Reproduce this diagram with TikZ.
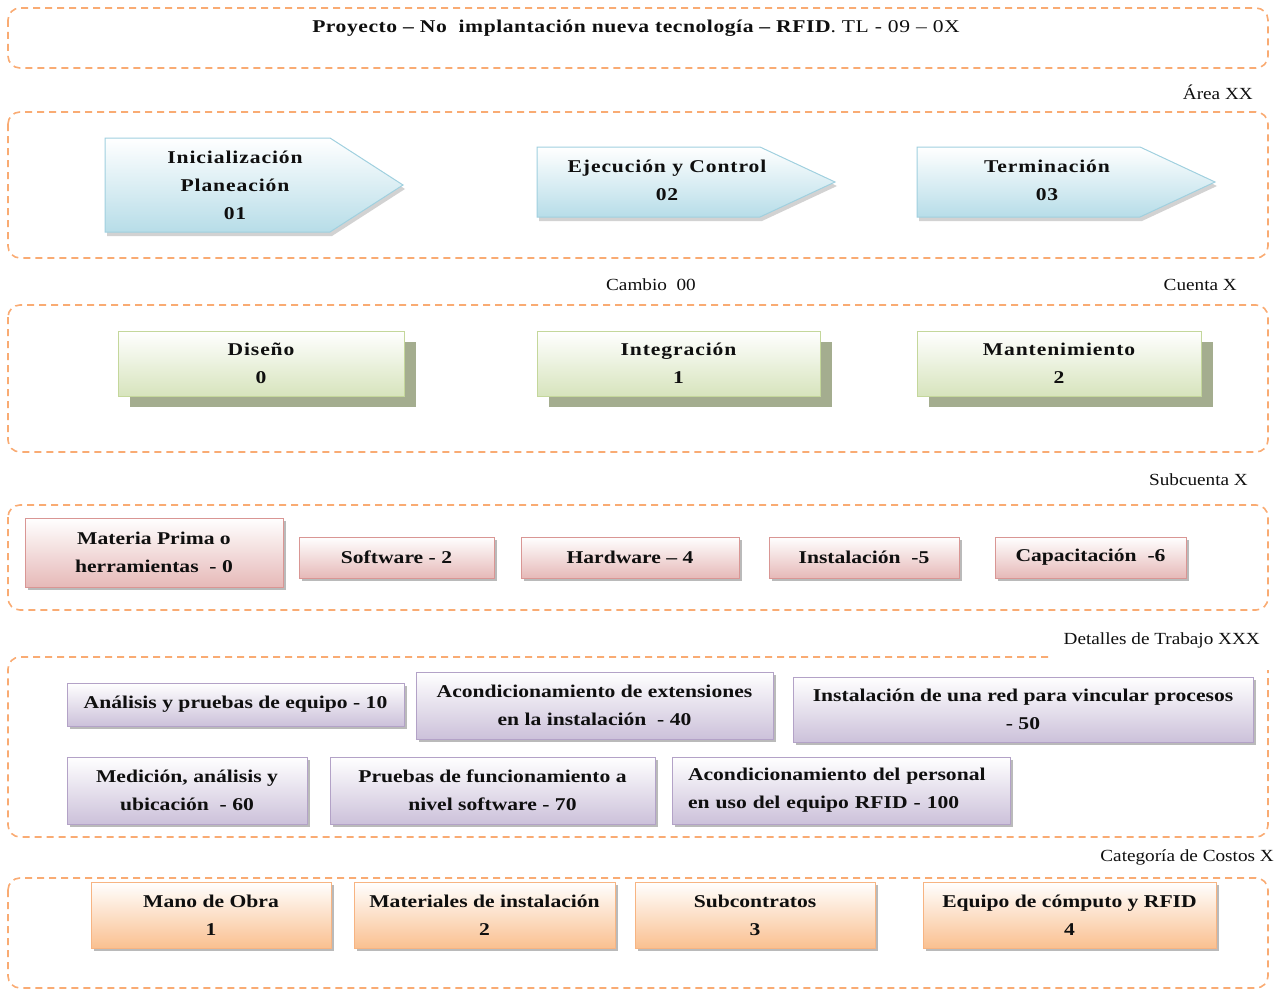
\documentclass[tikz,border=0pt]{standalone}
\usepackage{fontspec}
\setmainfont{Liberation Serif}
\newfontfamily\boxfamily{Liberation Serif}[FakeStretch=1.2]
\newfontfamily\lblfamily{Liberation Serif}[FakeStretch=1.13]
\usetikzlibrary{shadows}

\definecolor{grpline}{RGB}{249,171,115}
\definecolor{bluebot}{RGB}{183,221,232}
\definecolor{bluebd}{RGB}{160,208,223}
\definecolor{greenbot}{RGB}{215,228,189}
\definecolor{greenbd}{RGB}{196,215,155}
\definecolor{greenshd}{RGB}{164,173,143}
\definecolor{pinkbot}{RGB}{230,185,184}
\definecolor{pinkbd}{RGB}{217,150,148}
\definecolor{lilacbot}{RGB}{204,193,218}
\definecolor{lilacbd}{RGB}{179,162,199}
\definecolor{orangebot}{RGB}{250,192,144}
\definecolor{orangebd}{RGB}{247,180,130}
\definecolor{txt}{RGB}{15,15,15}

\newcommand\boxfnt{\boxfamily\bfseries\fontsize{18}{28}\selectfont}
\newcommand\lblfnt{\lblfamily\fontsize{17}{20}\selectfont}

\begin{document}
\begin{tikzpicture}[x=1pt,y=1pt,
  group/.style={draw=grpline, line width=1.6pt, dash pattern=on 7pt off 5pt, rounded corners=12pt},
  tag/.style={font=\lblfnt, inner sep=0pt, anchor=east, text=txt},
  card/.style={rectangle, inner sep=0pt, align=center, font=\boxfnt, text=txt},
  spaced/.style={font=\boxfnt\addfontfeature{LetterSpace=5}},
  softshadow/.style={drop shadow={shadow xshift=3pt, shadow yshift=-3pt, fill=black!45, opacity=.6}},
  phase/.style={draw=bluebd, line width=1pt, top color=white, bottom color=bluebot,
    drop shadow={shadow xshift=2pt, shadow yshift=-4pt, fill=black!35, opacity=.5}},
  account/.style={card, draw=greenbd, line width=1pt, top color=white, bottom color=greenbot,
    drop shadow={shadow xshift=12pt, shadow yshift=-11pt, fill=greenshd, opacity=1}},
  subacc/.style={card, draw=pinkbd, line width=1pt, top color=white, bottom color=pinkbot, softshadow},
  work/.style={card, draw=lilacbd, line width=1pt, top color=white, bottom color=lilacbot, softshadow},
  cost/.style={card, draw=orangebd, line width=1pt, top color=white, bottom color=orangebot, softshadow},
]
\useasboundingbox (0,0) rectangle (1277,-990);

% ---- dashed group frames ----
\draw[group] (8,-8) rectangle (1268,-68);
\draw[group] (8,-112) rectangle (1268,-258);
\draw[group] (8,-305) rectangle (1268,-452);
\draw[group] (8,-505) rectangle (1268,-610);
\draw[group] (1048,-657) -| (8,-837) -| (1268,-670);
\draw[group] (8,-878) rectangle (1268,-988);

% ---- title ----
\node[card, font=\boxfnt\addfontfeature{LetterSpace=3}] (title) at (636,-28) {Proyecto – No\ \ implantación nueva tecnología – RFID\mdseries. TL - 09 – 0X};

% ---- level tags ----
\node[tag] (tArea) at (1253,-92) {Área XX};
\node[tag, anchor=center] (tCambio) at (651,-285) {Cambio\ \ 00};
\node[tag] (tCuenta) at (1237,-285) {Cuenta X};
\node[tag] (tSub) at (1248,-480) {Subcuenta X};
\node[tag] (tDet) at (1260,-640) {Detalles de Trabajo XXX};
\node[tag] (tCat) at (1274,-857) {Categoría de Costos X};

% ---- phases ----
\path[phase] (105,-138) -- (330,-138) -- (403,-185) -- (330,-232) -- (105,-232) -- cycle;
\path[phase] (537,-147) -- (760,-147) -- (835,-182) -- (760,-217) -- (537,-217) -- cycle;
\path[phase] (917,-147) -- (1140,-147) -- (1215,-182) -- (1140,-217) -- (917,-217) -- cycle;
\node[card, spaced] (ph1) at (235,-185) {Inicialización\\Planeación\\01};
\node[card, spaced] (ph2) at (667,-180) {Ejecución y Control\\02};
\node[card, spaced] (ph3) at (1047,-180) {Terminación\\03};

% ---- accounts ----
\node[account, spaced, minimum width=286pt, minimum height=65pt] (c0) at (261,-363.5) {Diseño\\0};
\node[account, spaced, minimum width=283pt, minimum height=65pt] (c1) at (678.5,-363.5) {Integración\\1};
\node[account, spaced, minimum width=284pt, minimum height=65pt] (c2) at (1059,-363.5) {Mantenimiento\\2};

% ---- sub-accounts ----
\node[subacc, minimum width=258pt, minimum height=69pt] (s0) at (154,-552.5) {Materia Prima o\\herramientas\ \ - 0};
\node[subacc, minimum width=195pt, minimum height=41pt] (s2) at (396.5,-557.5) {Software - 2};
\node[subacc, minimum width=218pt, minimum height=41pt] (s4) at (630,-557.5) {Hardware – 4};
\node[subacc, minimum width=190pt, minimum height=41pt] (s5) at (864,-557.5) {Instalación\ \ -5};
\node[subacc, minimum width=191pt, minimum height=41pt] (s6) at (1090.5,-557.5) {Capacitación\ \ -6};

% ---- work details ----
\node[work, minimum width=337pt, minimum height=43pt] (w10) at (235.5,-704.5) {Análisis y pruebas de equipo - 10};
\node[work, minimum width=357pt, minimum height=67pt] (w40) at (594.5,-705.5) {Acondicionamiento de extensiones\\en la instalación\ \ - 40};
\node[work, minimum width=460pt, minimum height=65pt] (w50) at (1023,-709.5) {Instalación de una red para vincular procesos\\- 50};
\node[work, minimum width=240pt, minimum height=67pt] (w60) at (187,-790.5) {Medición, análisis y\\ubicación\ \ - 60};
\node[work, minimum width=325pt, minimum height=67pt] (w70) at (492.5,-790.5) {Pruebas de funcionamiento a\\nivel software - 70};
\node[work, minimum width=338pt, minimum height=67pt, align=left, text width=306pt] (w100) at (841,-790.5) {Acondicionamiento del personal\\en uso del equipo RFID - 100};

% ---- cost categories ----
\node[cost, minimum width=240pt, minimum height=66pt] (k1) at (211,-915) {Mano de Obra\\1};
\node[cost, minimum width=261pt, minimum height=66pt] (k2) at (484.5,-915) {Materiales de instalación\\2};
\node[cost, minimum width=240pt, minimum height=66pt] (k3) at (755,-915) {Subcontratos\\3};
\node[cost, minimum width=293pt, minimum height=66pt] (k4) at (1069.5,-915) {Equipo de cómputo y RFID\\4};
\end{tikzpicture}
\end{document}
